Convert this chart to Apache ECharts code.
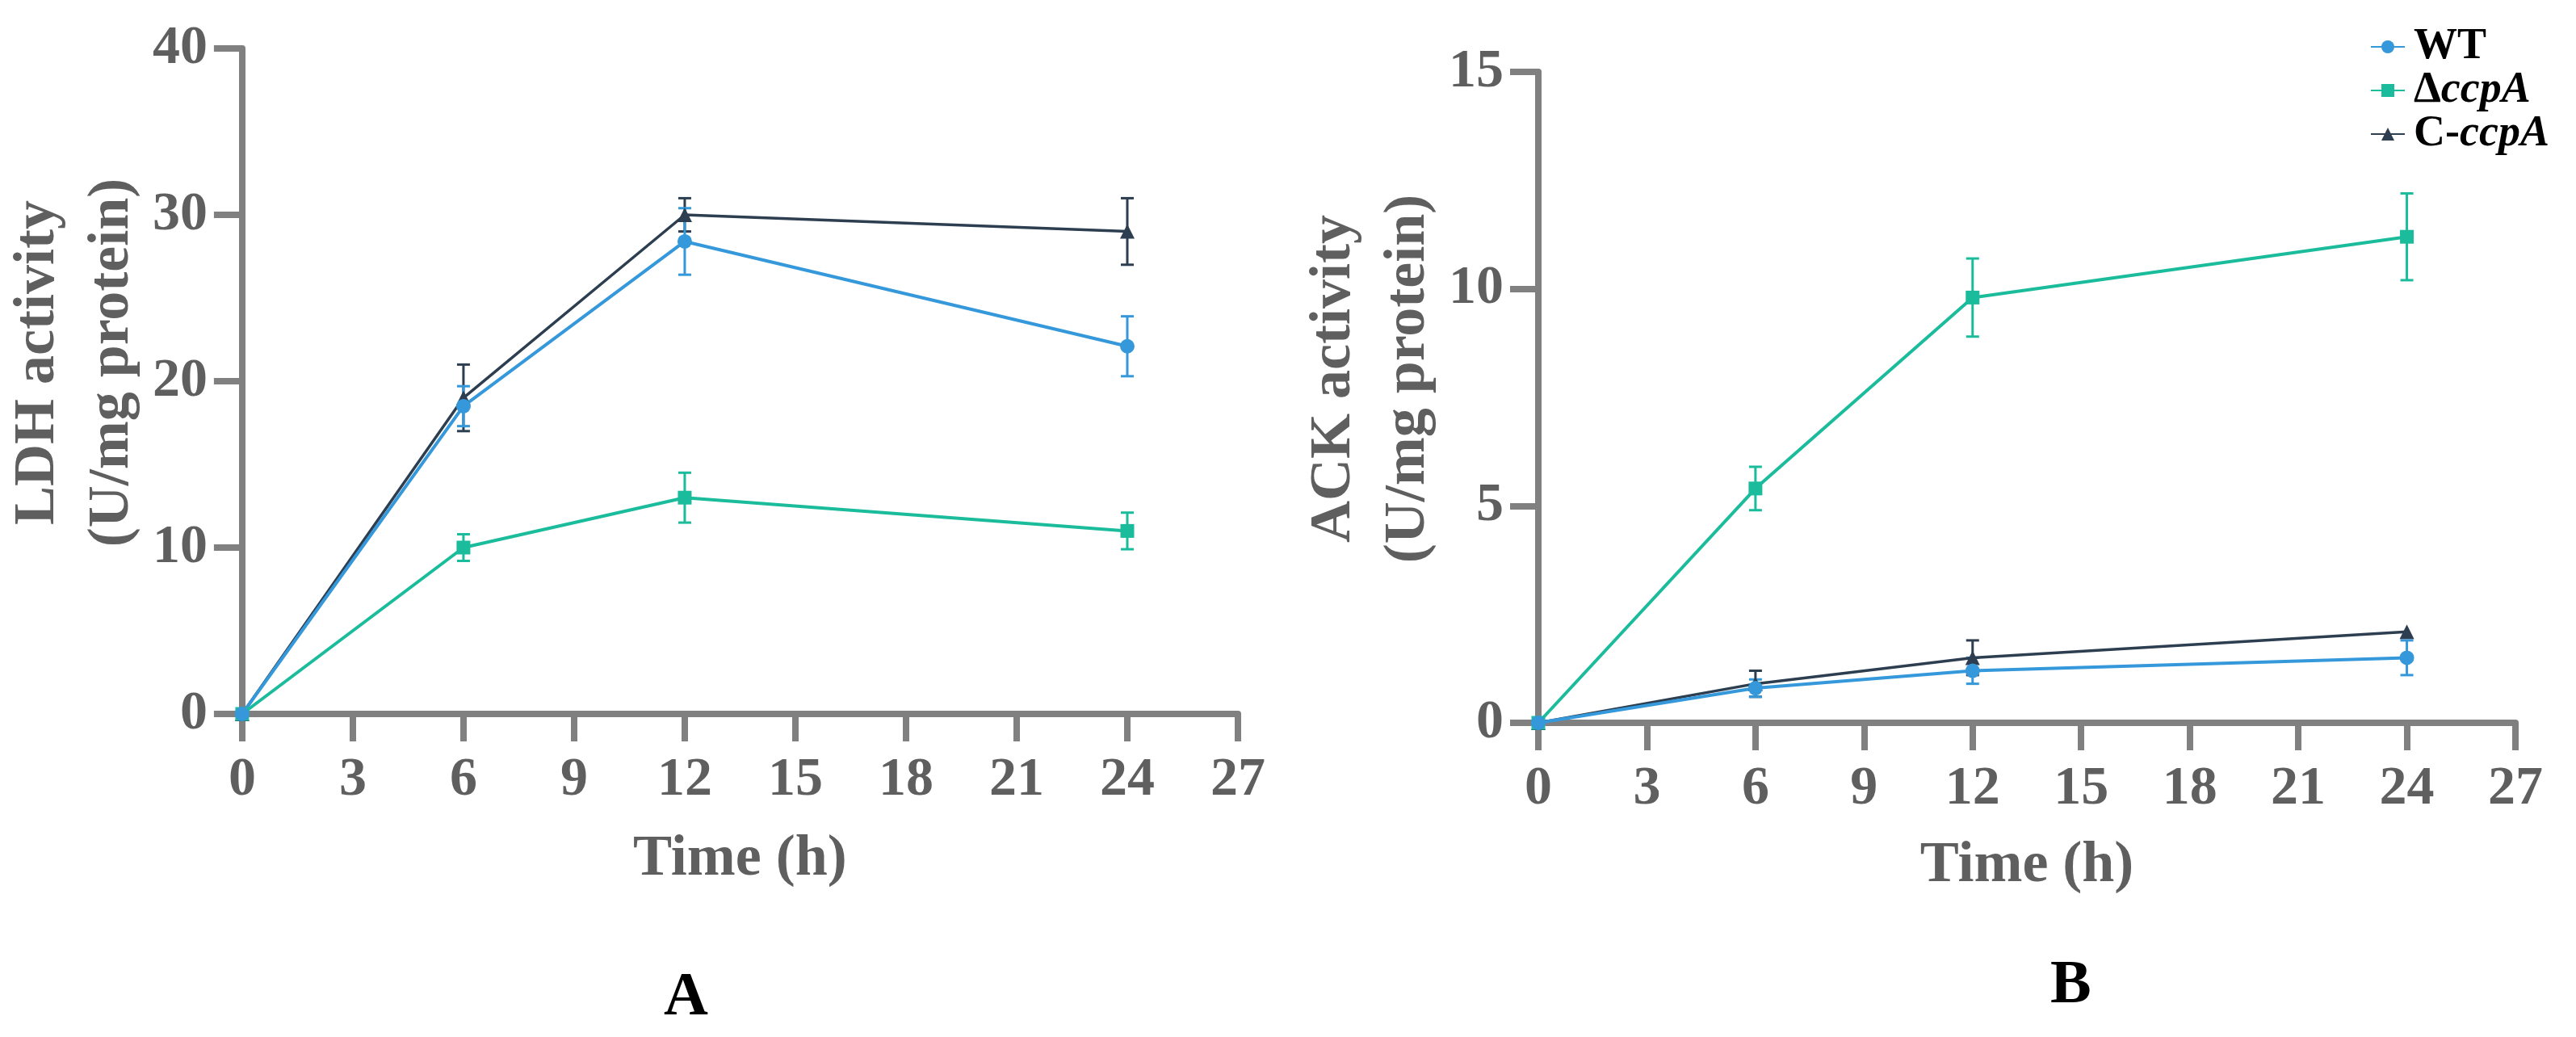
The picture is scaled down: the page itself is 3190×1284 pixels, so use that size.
<!DOCTYPE html>
<html>
<head>
<meta charset="utf-8">
<script src="https://cdn.jsdelivr.net/npm/echarts@6/dist/echarts.min.js"></script>
<style>
  html, body { margin: 0; padding: 0; background: #fff; }
  #chart { width: 3190px; height: 1284px; }
</style>
</head>
<body>
<div id="chart"></div>
<script>
// sampling times (h)
const times = [0, 6, 12, 24];

// A: LDH activity, mean and SD
const ldhWT = [0, 18.5, 28.4, 22.1];
const ldhWTsd = [0, 1.2, 2.0, 1.8];
const ldhDel = [0, 10, 13, 11];
const ldhDelsd = [0, 0.8, 1.5, 1.1];
const ldhComp = [0, 19, 30, 29];
const ldhCompsd = [0, 2, 1, 2];

// B: ACK activity, mean and SD
const ackWT = [0, 0.8, 1.2, 1.5];
const ackWTsd = [0, 0.2, 0.3, 0.4];
const ackDel = [0, 5.4, 9.8, 11.2];
const ackDelsd = [0, 0.5, 0.9, 1.0];
const ackComp = [0, 0.9, 1.5, 2.1];
const ackCompsd = [0, 0.3, 0.4, 0];

const names = ['WT', 'ΔccpA', 'C-ccpA'];
const colors = { 'WT': '#3498db', 'ΔccpA': '#1abc9c', 'C-ccpA': '#2c3e50' };
const symbols = { 'WT': 'circle', 'ΔccpA': 'rect', 'C-ccpA': 'triangle' };

const AXIS = '#808080';
const TEXT = '#5f5f5f';
const FONT = '"Liberation Serif", "Times New Roman", serif';

const chart = echarts.init(document.getElementById('chart'));

function xAxis(gridIndex, gap) {
  return {
    type: 'value', gridIndex, min: 0, max: 27, interval: 3,
    name: 'Time (h)', nameLocation: 'middle', nameGap: gap,
    nameTextStyle: { fontFamily: FONT, fontWeight: 'bold', fontSize: 72, color: TEXT },
    axisLine: { lineStyle: { color: AXIS, width: 8 } },
    axisTick: { length: 34, lineStyle: { color: AXIS, width: 8 } },
    axisLabel: { margin: 48, fontFamily: FONT, fontWeight: 'bold', fontSize: 68, color: TEXT },
    splitLine: { show: false }
  };
}

function yAxis(gridIndex, max, interval, title) {
  return {
    type: 'value', gridIndex, min: 0, max, interval,
    name: title + '\n(U/mg protein)', nameLocation: 'middle', nameGap: 106,
    nameTextStyle: {
      fontFamily: FONT, fontWeight: 'bold', fontSize: 72, color: TEXT,
      lineHeight: 92, padding: [0, 0, 0, 46]
    },
    axisLine: { show: true, lineStyle: { color: AXIS, width: 8 } },
    axisTick: { show: true, length: 35, lineStyle: { color: AXIS, width: 8 } },
    axisLabel: { margin: 43, fontFamily: FONT, fontWeight: 'bold', fontSize: 68, color: TEXT },
    splitLine: { show: false }
  };
}

function lineSeries(name, idx, vals) {
  return {
    type: 'line', name, xAxisIndex: idx, yAxisIndex: idx,
    data: times.map((t, i) => [t, vals[i]]),
    symbol: symbols[name], symbolSize: name === 'ΔccpA' ? 17 : 18,
    lineStyle: { color: colors[name], width: name === 'C-ccpA' ? 3.5 : 4 },
    itemStyle: { color: colors[name] },
    z: 4
  };
}

// error bars (mean ± SD) drawn with the axes' own coordinates
function errSeries(name, idx, vals, sd) {
  return {
    type: 'custom', name: name + ' SD', xAxisIndex: idx, yAxisIndex: idx,
    data: times.map((t, i) => [t, vals[i] - sd[i], vals[i] + sd[i]]),
    silent: true, z: 4,
    renderItem(params, api) {
      const x = api.value(0);
      if (api.value(2) - api.value(1) <= 0) return { type: 'group', children: [] };
      const lo = api.coord([x, api.value(1)]);
      const hi = api.coord([x, api.value(2)]);
      const w = 8;
      const st = { stroke: colors[name], lineWidth: 3 };
      return {
        type: 'group',
        children: [
          { type: 'line', shape: { x1: lo[0], y1: lo[1], x2: hi[0], y2: hi[1] }, style: st },
          { type: 'line', shape: { x1: hi[0] - w, y1: hi[1], x2: hi[0] + w, y2: hi[1] }, style: st },
          { type: 'line', shape: { x1: lo[0] - w, y1: lo[1], x2: lo[0] + w, y2: lo[1] }, style: st }
        ]
      };
    }
  };
}

const series = [
  // panel A, dark first so WT sits on top
  errSeries('C-ccpA', 0, ldhComp, ldhCompsd), lineSeries('C-ccpA', 0, ldhComp),
  errSeries('ΔccpA', 0, ldhDel, ldhDelsd), lineSeries('ΔccpA', 0, ldhDel),
  errSeries('WT', 0, ldhWT, ldhWTsd), lineSeries('WT', 0, ldhWT),
  // panel B
  errSeries('C-ccpA', 1, ackComp, ackCompsd), lineSeries('C-ccpA', 1, ackComp),
  errSeries('ΔccpA', 1, ackDel, ackDelsd), lineSeries('ΔccpA', 1, ackDel),
  errSeries('WT', 1, ackWT, ackWTsd), lineSeries('WT', 1, ackWT)
];

chart.setOption({
  backgroundColor: '#fff',
  animation: false,
  grid: [
    { left: 296, top: 60, width: 1237, height: 824 },
    { left: 1905, top: 89, width: 1210, height: 806 }
  ],
  xAxis: [xAxis(0, 144), xAxis(1, 141)],
  yAxis: [yAxis(0, 40, 10, 'LDH activity'), yAxis(1, 15, 5, 'ACK activity')],
  legend: {
    data: names, orient: 'vertical', left: 2930, top: 26,
    itemWidth: 42, itemHeight: 20, itemGap: 0,
    formatter(n) {
      if (n === 'ΔccpA') return '{b|Δ}{i|ccpA}';
      if (n === 'C-ccpA') return '{b|C-}{i|ccpA}';
      return '{b|' + n + '}';
    },
    textStyle: {
      padding: [0, 0, 0, 6],
      rich: {
        b: { fontFamily: FONT, fontWeight: 'bold', fontSize: 54, color: '#000', lineHeight: 52 },
        i: { fontFamily: FONT, fontWeight: 'bold', fontStyle: 'italic', fontSize: 54, color: '#000', lineHeight: 52 }
      }
    }
  },
  graphic: [
    { type: 'text', left: 852 - 30, top: 1236 - 38, style: { text: 'A', font: 'bold 76px ' + FONT, fill: '#000' } },
    { type: 'text', left: 2564 - 25, top: 1221 - 38, style: { text: 'B', font: 'bold 76px ' + FONT, fill: '#000' } }
  ],
  series
});
</script>
</body>
</html>
